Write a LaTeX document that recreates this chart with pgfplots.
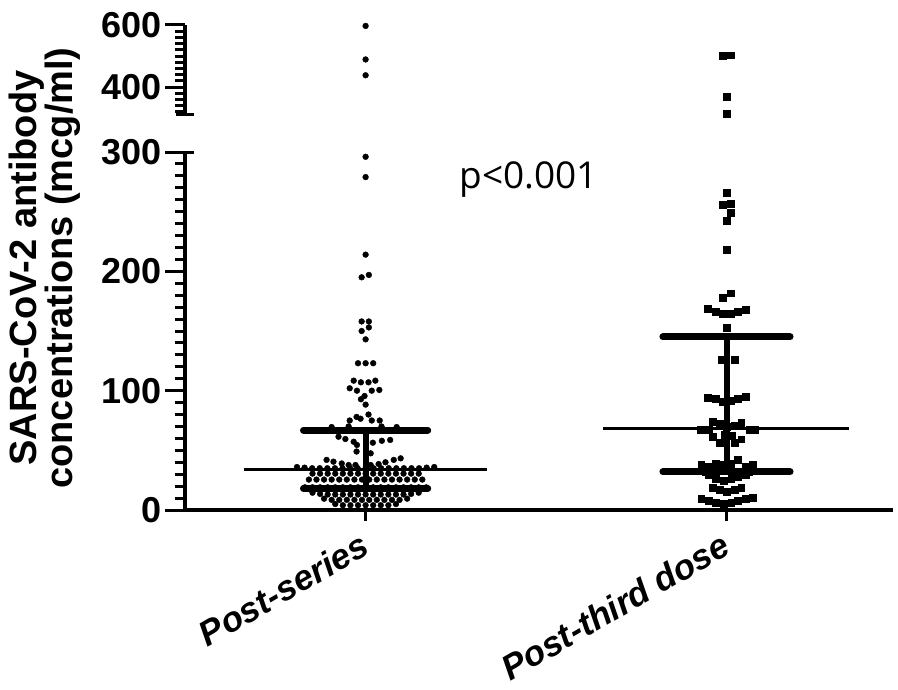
\documentclass[border=0pt]{standalone}
\usepackage{pgfplots}
\pgfplotsset{compat=1.18}
\usepackage{fontspec}
\setmainfont{Liberation Sans}
\newfontfamily\pfont{Open Sans}

\begin{document}
\begin{tikzpicture}
\useasboundingbox (-185pt,-179pt) rectangle (713pt,510pt);
\pgfplotsset{
  common/.style={
    scale only axis, width=708pt, xmin=0.5, xmax=2.46, clip=false,
    /pgf/number format/assume math mode=true,
    axis line style={line width=4pt},
    tick style={line width=3pt, black},
    tick align=outside, major tick length=20pt, minor tick length=10pt,
    yticklabel style={font=\bfseries\fontsize{36}{36}\selectfont},
    axis y line*=left,
  }
}
% lower segment
\begin{axis}[common, at={(0,0)}, anchor=south west,
  height=358pt, ymin=0, ymax=300,
  axis x line*=bottom,
  ytick={0,100,200,300}, minor ytick={10,20,...,290},
  extra y ticks={300}, extra y tick labels={},
  extra y tick style={tick align=center, major tick length=18pt},
  xtick={1,2}, xticklabels={Post-series, Post-third dose},
  xtick style={draw=none},
  xticklabel style={rotate=30, anchor=north east, yshift=6pt, xshift=-3pt, font=\bfseries\itshape\fontsize{35}{35}\selectfont},
]
% Post-series
\addplot[only marks, mark=*, mark size=2.9pt, black] coordinates {
(1,296) (1,279) (1,214) (0.989,195) (1.009,197)
(0.989,158) (1.009,158) (0.989,150) (1.009,153) (1,143)
(0.979,123) (1,123) (1.021,123)
(0.967,108.4) (0.987,107) (1.008,107) (1.027,108.4)
(0.956,102) (0.976,100) (1.017,100) (1.038,100.6)
(0.997,95.5) (0.987,92.8) (1,88.3)
(0.956,75) (0.975,78) (0.986,76.5) (1.008,80) (1.017,75) (1.039,75)
(0.906,69.5) (0.953,70) (1.044,70) (1.086,69.5)
(0.925,61.4) (0.944,59.5) (0.967,57.2) (0.976,54.5) (1.020,56.4) (1.045,58) (1.068,58.7)
(0.975,49) (1.014,47.5)
(0.892,42) (0.911,40.5) (0.934,39) (0.953,37.7) (0.972,37.7) (1.014,37.7) (1.036,38.5) (1.055,40) (1.078,42) (1.097,43.3)
(0.810,36) (0.831,35.5) (0.852,35) (0.873,35) (0.894,35) (0.915,35) (0.936,35) (0.957,35) (0.978,35) (1.0,35)
(1.022,35) (1.043,35) (1.064,35) (1.085,35) (1.106,35) (1.127,35) (1.148,35) (1.169,35.5) (1.19,36)
(0.853,30.5) (0.874,30.5) (0.895,30.5) (0.916,30.5) (0.937,30.5) (0.958,30.5) (0.979,30.5) (1.0,30.5)
(1.021,30.5) (1.042,30.5) (1.063,30.5) (1.084,30.5) (1.105,30.5) (1.126,30.5) (1.147,30.5)
(0.843,25.5) (0.864,25.5) (0.885,25.5) (0.906,25.5) (0.927,25.5) (0.948,25.5) (0.969,25.5) (0.990,25.5)
(1.010,25.5) (1.031,25.5) (1.052,25.5) (1.073,25.5) (1.094,25.5) (1.115,25.5) (1.136,25.5) (1.157,25.5)
(0.832,19) (0.853,19) (0.874,19) (0.895,19) (0.916,19) (0.937,19) (0.958,19) (0.979,19) (1.0,19)
(1.021,19) (1.042,19) (1.063,19) (1.084,19) (1.105,19) (1.126,19) (1.147,19) (1.168,19)
(0.853,14.5) (0.874,13.5) (0.895,13) (0.916,13) (0.937,13) (0.958,13) (0.979,13) (1.0,13)
(1.021,13) (1.042,13) (1.063,13) (1.084,13) (1.105,13) (1.126,13.5) (1.147,14.5)
(0.885,9.5) (0.906,8.5) (0.927,8.5) (0.948,8.5) (0.969,8.5) (0.990,8.5)
(1.010,8.5) (1.031,8.5) (1.052,8.5) (1.073,8.5) (1.094,8.5) (1.115,9.5)
(0.916,5) (0.937,4) (0.958,4) (0.979,4) (1.0,4) (1.021,4) (1.042,4) (1.063,4) (1.084,5)
};
% Post-third dose
\addplot[only marks, mark=square*, mark size=3.4pt, black] coordinates {
(2,266) (1.989,255.6) (2.010,256.5) (2.010,249) (2,242.5) (2,218) (1.989,178) (2.010,181.6)
(1.947,169) (1.969,166) (1.989,164.5) (2.010,164.5) (2.030,166) (2.052,168)
(2,153)
(1.986,125.7) (2.021,125.7)
(1.947,94.4) (1.969,93) (1.989,90.8) (2.010,91.6) (2.030,93.6) (2.052,95)
(1.960,74) (1.980,72) (2,70) (2.021,70.8) (2.040,73)
(1.928,67) (1.950,67) (2.063,67) (2.077,67)
(1.960,61.4) (1.980,56.7) (1.994,62.8) (2.015,62) (2.021,56.7) (2.040,59.3)
(1.929,37.7) (1.950,36.3) (1.970,39) (1.991,37.7) (2.012,38.5) (2.030,42) (2.052,36.3) (2.072,37.7)
(1.94,32) (1.97,32) (2.03,32) (2.06,32)
(1.950,29.3) (1.970,26.5) (1.991,24.3) (2.012,26) (2.030,27.9) (2.052,29.3)
(1.961,19) (1.980,16.8) (2,15.3) (2.021,16.8) (2.040,19)
(1.929,9.8) (1.950,7.8) (1.970,6.1) (1.991,5.6) (2.012,6.1) (2.030,7.8) (2.052,9.8) (2.072,10.6)
};
% medians and interquartile ranges
\addplot[black, line width=3pt] coordinates {(0.662,34) (1.335,34)};
\addplot[black, line width=7pt, line cap=round] coordinates {(0.828,67) (1.172,67)};
\addplot[black, line width=7pt, line cap=round] coordinates {(0.828,18) (1.172,18)};
\addplot[black, line width=6pt] coordinates {(1,18) (1,67)};
\addplot[black, line width=3pt] coordinates {(1.657,68) (2.338,68)};
\addplot[black, line width=7pt, line cap=round] coordinates {(1.823,145) (2.175,145)};
\addplot[black, line width=7pt, line cap=round] coordinates {(1.823,32) (2.175,32)};
\addplot[black, line width=6pt] coordinates {(2,32) (2,145)};
\draw[line width=3pt] (axis cs:1,0) -- ([yshift=-11pt]axis cs:1,0);
\draw[line width=3pt] (axis cs:2,0) -- ([yshift=-11pt]axis cs:2,0);
\node[font=\pfont\fontsize{37}{37}\selectfont] at (axis cs:1.452,277) {p<0.001};
\end{axis}
% upper segment
\begin{axis}[common, at={(0,395pt)}, anchor=south west,
  height=90pt, ymin=310, ymax=600,
  hide x axis,
  ytick={400,600}, minor ytick={320,340,...,580},
  extra y ticks={310}, extra y tick labels={},
  extra y tick style={tick align=center, major tick length=18pt},
]
\addplot[only marks, mark=*, mark size=2.9pt, black] coordinates {(1,597) (1,489) (1,438)};
\addplot[only marks, mark=square*, mark size=3.4pt, black] coordinates {(1.989,500) (2.010,503) (2,369) (2,315)};
\end{axis}
\node[rotate=90, align=center, font=\bfseries\fontsize{38}{36}\selectfont] at (-140pt,242pt) {SARS-CoV-2 antibody\\concentrations (mcg/ml)};
\end{tikzpicture}
\end{document}
